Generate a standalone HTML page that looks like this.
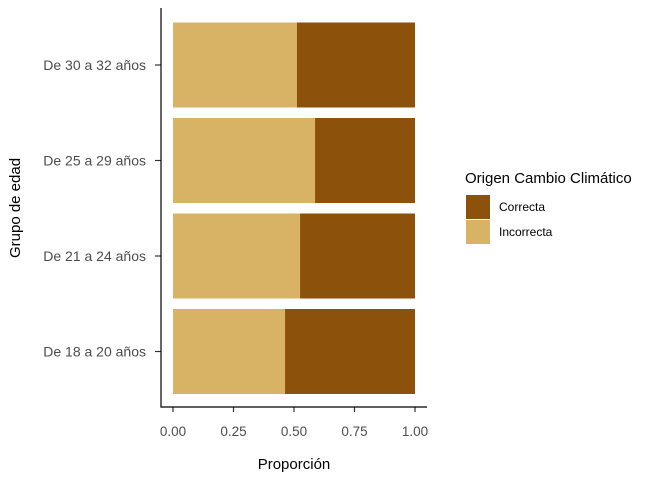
<!DOCTYPE html>
<html><head><meta charset="utf-8"><style>body{margin:0;background:#fff}svg{font-family:"Liberation Sans",sans-serif}</style></head>
<body>
<svg id="c" width="672" height="480" xmlns="http://www.w3.org/2000/svg"></svg>
<script>
const categories=["De 18 a 20 años","De 21 a 24 años","De 25 a 29 años","De 30 a 32 años"];
const incorrecta=[0.463,0.525,0.587,0.512];
const correcta=[0.537,0.475,0.413,0.488];
const xTicks=[0,0.25,0.5,0.75,1];
const xTickLabels=["0.00","0.25","0.50","0.75","1.00"];
const NS="http://www.w3.org/2000/svg",svg=document.getElementById('c');
function mk(t,a,txt){const e=document.createElementNS(NS,t);for(const k in a)e.setAttribute(k,a[k]);if(txt!=null)e.textContent=txt;svg.appendChild(e);return e;}
const x=v=>173+v*242;
const band=95.5;
const yc=i=>351.5-i*band;
const bh=85;
categories.forEach((c,i)=>{
 const y0=yc(i)-bh/2;
 let r=mk('rect',{x:x(0),y:y0,width:x(incorrecta[i])-x(0),height:bh,fill:'#D8B365'});
 
 
 r=mk('rect',{x:x(incorrecta[i]),y:y0,width:x(incorrecta[i]+correcta[i])-x(incorrecta[i]),height:bh,fill:'#8C510A'});
 
 
 let t=mk('line',{x1:155,x2:161,y1:yc(i),y2:yc(i),stroke:'#333','stroke-width':1.2});
 
 
 t=mk('text',{x:146,y:yc(i)+5,'text-anchor':'end','font-size':14,fill:'#4d4d4d'},c);
 
 
});
xTicks.forEach((v,i)=>{
 let t=mk('line',{x1:x(v),x2:x(v),y1:407,y2:412,stroke:'#333','stroke-width':1.2});
 
 
 t=mk('text',{x:x(v),y:436,'text-anchor':'middle','font-size':13.5,fill:'#4d4d4d'},xTickLabels[i]);
 
 
});
let a=mk('line',{x1:161,x2:161,y1:8,y2:407.5,stroke:'#000','stroke-width':1.2});

a=mk('line',{x1:160.5,x2:427,y1:407,y2:407,stroke:'#000','stroke-width':1.2});

a=mk('text',{x:294,y:469,'text-anchor':'middle','font-size':15,fill:'#000'},'Proporción');

a=mk('text',{x:20,y:208,'text-anchor':'middle','font-size':15,fill:'#000',transform:'rotate(-90 20 208)'},'Grupo de edad');

a=mk('text',{x:465,y:183,'font-size':15,fill:'#000'},'Origen Cambio Climático');

[['Correcta','#8C510A',195],['Incorrecta','#D8B365',220]].forEach(([l,col,y])=>{
 let r=mk('rect',{x:466,y:y,width:24,height:24,fill:col});
 
 r=mk('text',{x:499,y:y+16,'font-size':12,fill:'#000'},l);
 
});
</script>
</body></html>
